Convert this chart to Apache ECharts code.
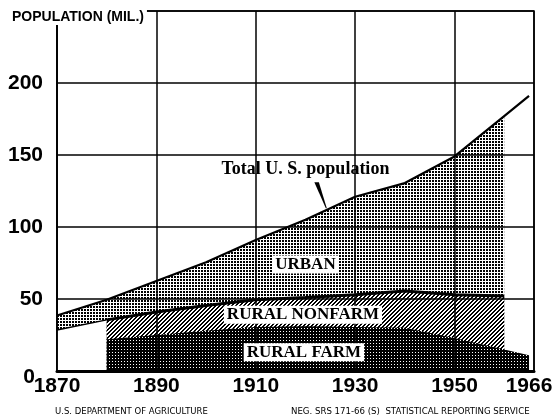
<!DOCTYPE html>
<html>
<head>
<meta charset="utf-8">
<script src="https://cdn.jsdelivr.net/npm/echarts@6/dist/echarts.min.js"></script>
<style>
  html, body { margin: 0; padding: 0; background: #fff; }
  #container { width: 553px; height: 419px; }
</style>
</head>
<body>
<div id="container"></div>
<script>
// population in millions
var totalYears = [1870, 1880, 1890, 1900, 1910, 1920, 1930, 1940, 1950, 1960, 1965];
var totalPop = [38.5, 49.5, 62.5, 75.5, 91, 105, 121, 130.5, 149, 177, 191];

var ruralYears = [1870, 1880, 1890, 1900, 1910, 1920, 1930, 1940, 1950, 1960];
var ruralPop = [28.5, 35.5, 41, 45.5, 49.5, 51, 53, 55.5, 53, 52];

var farmYears = [1880, 1890, 1900, 1910, 1920, 1930, 1940, 1950, 1960, 1965];
var farmPop = [22, 25, 28, 30.5, 31, 30.5, 30, 23, 15, 11];

var xTicks = [1870, 1890, 1910, 1930, 1950, 1966];
var yTicks = [0, 50, 100, 150, 200];

var labels = [
  { text: 'URBAN', at: [1920, 74] },
  { text: 'RURAL NONFARM', at: [1919.5, 39] },
  { text: 'RURAL FARM', at: [1919.7, 13] }
];

var dom = document.getElementById('container');
var myChart = echarts.init(dom, null, { renderer: 'canvas' });

// little tiles for the printed textures
function makeTile(size, fn) {
  var c = document.createElement('canvas');
  c.width = size; c.height = size;
  var ctx = c.getContext('2d');
  ctx.fillStyle = '#fff';
  ctx.fillRect(0, 0, size, size);
  ctx.fillStyle = '#000';
  for (var x = 0; x < size; x++) {
    for (var y = 0; y < size; y++) {
      if (fn(x, y)) ctx.fillRect(x, y, 1, 1);
    }
  }
  return { image: c, repeat: 'repeat' };
}
var stipple = makeTile(3, function (x, y) { return x < 2 && y < 2; });
var hatch = makeTile(4, function (x, y) { return (x + y) % 4 < 2; });
var darkDots = makeTile(3, function (x, y) { return !(y === 1 && x === 1); });

function pairs(xs, ys, n) {
  var out = [];
  for (var i = 0; i < (n || xs.length); i++) out.push([xs[i], ys[i]]);
  return out;
}

var sans = "'Liberation Sans', Arial, sans-serif";
var serif = "'Liberation Serif', serif";

option = {
  animation: false,
  backgroundColor: '#fff',
  title: [
    {
      text: 'POPULATION (MIL.)',
      left: 10, top: 9,
      padding: [1, 3, 1, 2],
      backgroundColor: '#fff',
      textStyle: { fontFamily: sans, fontWeight: 'bold', fontSize: 14, color: '#000' }
    },
    {
      text: 'U.S. DEPARTMENT OF AGRICULTURE',
      left: 55, top: 407, padding: 0,
      textStyle: { fontFamily: 'DejaVu Sans', fontWeight: 'normal', fontSize: 8.5, color: '#000' }
    },
    {
      text: 'NEG. SRS 171-66 (S)  STATISTICAL REPORTING SERVICE',
      left: 291, top: 407, padding: 0,
      textStyle: { fontFamily: 'DejaVu Sans', fontWeight: 'normal', fontSize: 8.6, color: '#000' }
    }
  ],
  grid: {
    left: 57, right: 19, top: 11, bottom: 48,
    containLabel: false, outerBoundsMode: 'none',
    show: true, borderColor: '#000', borderWidth: 1.5, backgroundColor: 'transparent'
  },
  xAxis: {
    type: 'value', min: 1870, max: 1966, interval: 20, z: 5,
    axisLine: { show: true, lineStyle: { color: '#000', width: 3 } },
    axisTick: { show: false },
    splitLine: { show: true, lineStyle: { color: '#000', width: 1.5 } },
    axisLabel: {
      showMaxLabel: true, showMinLabel: true, margin: 5, color: '#000',
      fontFamily: sans, fontWeight: 'bold', fontSize: 21,
      formatter: function (v) {
        if (xTicks.indexOf(v) < 0) return '';
        return v === 1966 ? '{last|' + v + '}' : String(v);
      },
      rich: {
        last: { fontFamily: sans, fontWeight: 'bold', fontSize: 21, color: '#000', padding: [0, 10, 0, 0] }
      }
    }
  },
  yAxis: {
    type: 'value', min: 0, max: 250, interval: 50, z: 5,
    axisLine: { show: true, lineStyle: { color: '#000', width: 1.5 } },
    axisTick: { show: false },
    splitLine: { show: true, lineStyle: { color: '#000', width: 1.5 } },
    axisLabel: {
      margin: 14, color: '#000',
      fontFamily: sans, fontWeight: 'bold', fontSize: 21,
      formatter: function (v) {
        if (yTicks.indexOf(v) < 0) return '';
        return v === 0 ? '{zero|0}' : String(v);
      },
      rich: {
        zero: { fontFamily: sans, fontWeight: 'bold', fontSize: 21, color: '#000', padding: [12, 8, 0, 0] }
      }
    }
  },
  series: [
    {
      name: 'Urban', type: 'line', symbol: 'none', z: 1,
      data: pairs(totalYears, totalPop, ruralYears.length),
      lineStyle: { width: 0 },
      areaStyle: { color: stipple, opacity: 1 }
    },
    {
      name: 'Rural (no split)', type: 'line', symbol: 'none', z: 2,
      data: pairs(ruralYears, ruralPop, 2),
      lineStyle: { color: '#000', width: 1.5 },
      areaStyle: { color: '#fff', opacity: 1 }
    },
    {
      name: 'Rural nonfarm', type: 'line', symbol: 'none', z: 2,
      data: pairs(ruralYears, ruralPop).slice(1),
      lineStyle: { color: '#000', width: 3 },
      areaStyle: { color: hatch, opacity: 1 }
    },
    {
      name: 'Rural farm', type: 'line', symbol: 'none', z: 3,
      data: pairs(farmYears, farmPop),
      lineStyle: { width: 0 },
      areaStyle: { color: darkDots, opacity: 1 }
    },
    {
      name: 'Total U. S. population', type: 'line', symbol: 'none', z: 4,
      data: pairs(totalYears, totalPop),
      lineStyle: { color: '#000', width: 2.2 }
    }
  ]
};

myChart.setOption(option, true);

// area captions and the pointer to the total line
var g = labels.map(function (l) {
  var p = myChart.convertToPixel({ gridIndex: 0 }, l.at);
  return {
    type: 'text', x: p[0], y: p[1], z: 100,
    style: {
      text: l.text, align: 'center', verticalAlign: 'middle',
      font: 'bold 17px ' + serif, fill: '#000',
      backgroundColor: '#fff', padding: [1, 3, 0, 3]
    }
  };
});
var tp = myChart.convertToPixel({ gridIndex: 0 }, [1920, 140]);
g.push({
  type: 'text', x: tp[0], y: tp[1], z: 100,
  style: { text: 'Total U. S. population', align: 'center', verticalAlign: 'middle', font: 'bold 18px ' + serif, fill: '#000' }
});
var a = myChart.convertToPixel({ gridIndex: 0 }, [1922.2, 131]);
var b = myChart.convertToPixel({ gridIndex: 0 }, [1924.2, 113]);
g.push({
  type: 'polygon', z: 100,
  shape: { points: [[a[0] - 2, a[1]], [a[0] + 2.5, a[1]], [b[0] + 0.5, b[1]], [b[0] - 0.5, b[1]]] },
  style: { fill: '#000' }
});
myChart.setOption({ graphic: g });

window.onresize = myChart.resize;
</script>
</body>
</html>
